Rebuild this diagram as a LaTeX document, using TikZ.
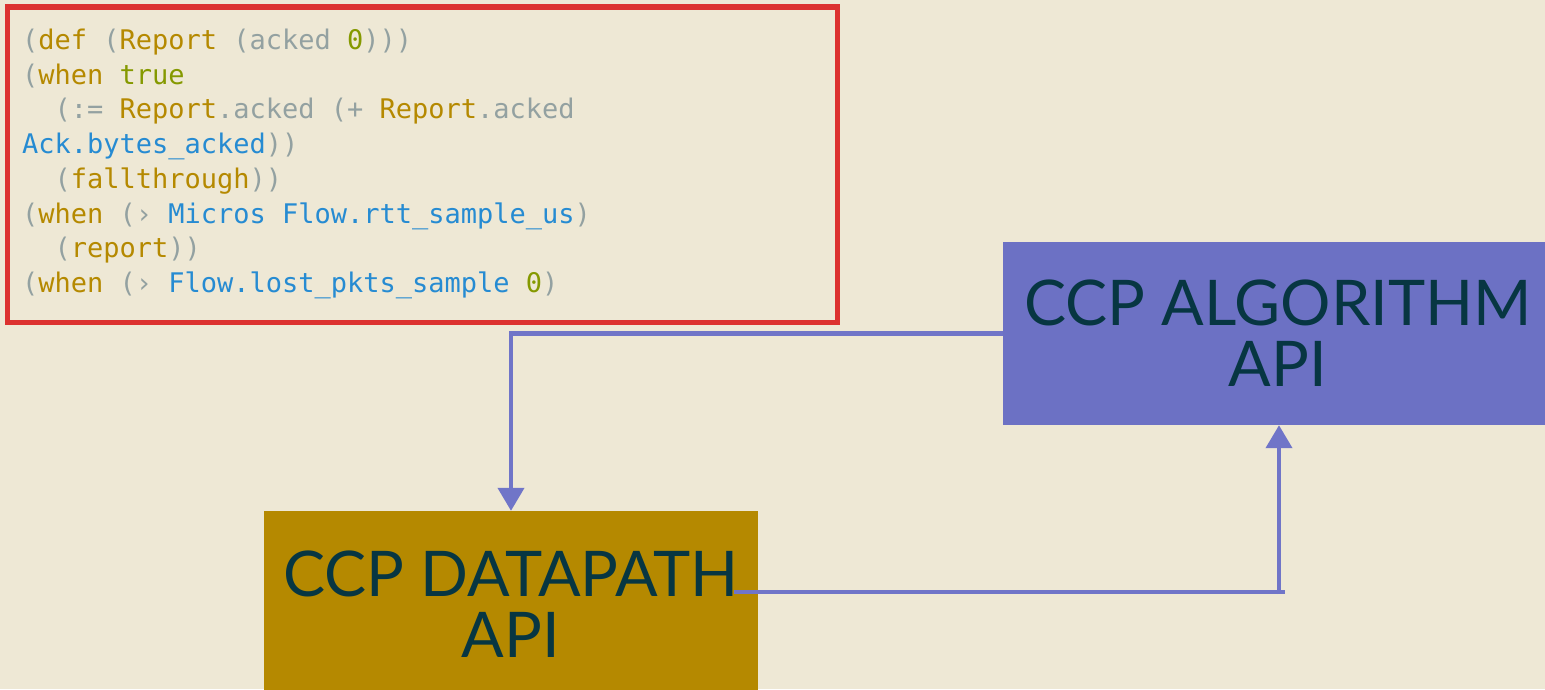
\documentclass[tikz,border=0pt]{standalone}
\usepackage{fontspec}
\usetikzlibrary{arrows.meta}
\newfontfamily\codefont{DejaVu Sans Mono}
\newfontfamily\labelfont{Lato}
\definecolor{paper}{HTML}{EEE8D5}
\definecolor{tokgray}{HTML}{93A1A1}
\definecolor{tokyellow}{HTML}{B58900}
\definecolor{tokgreen}{HTML}{859900}
\definecolor{tokblue}{HTML}{268BD2}
\definecolor{framered}{HTML}{DC322F}
\definecolor{dpfill}{HTML}{B58900}
\definecolor{algfill}{HTML}{6C71C4}
\definecolor{labelink}{HTML}{073642}
\definecolor{flowline}{HTML}{7075C8}
\newcommand\tg[1]{\textcolor{tokgray}{#1}}
\newcommand\ty[1]{\textcolor{tokyellow}{#1}}
\newcommand\tn[1]{\textcolor{tokgreen}{#1}}
\newcommand\tb[1]{\textcolor{tokblue}{#1}}
\tikzset{
  codeline/.style={anchor=base west, inner sep=0pt, outer sep=0pt,
    font=\codefont\fontsize{27}{34.7}\selectfont},
  codeframe/.style={draw=framered, line width=5.5pt, inner sep=0pt},
  apibox/.style={rectangle, inner sep=0pt, text=labelink, align=center,
    font=\labelfont\fontsize{63}{61}\selectfont},
  flow/.style={draw=flowline, line width=4.2pt, line join=miter},
  flowtip/.style={-{Triangle[width=26pt,length=23pt]}}
}
\begin{document}
\begin{tikzpicture}[x=1pt,y=-1pt]
  \useasboundingbox (0,0) rectangle (1545,689);
  \fill[paper] (0,0) rectangle (1545,689);

  % code listing and its frame
  \node[codeframe, minimum width=830pt, minimum height=315.5pt] (frame) at (422.5,164.75) {};
  \node[codeline] (c1) at (22,49.5) {\tg{(}\ty{def} \tg{(}\ty{Report} \tg{(acked} \tn{0}\tg{)))}};
  \node[codeline] (c2) at (22,84.2) {\tg{(}\ty{when} \tn{true}};
  \node[codeline] (c3) at (22,118.9) {\phantom{00}\tg{(:=} \ty{Report}\tg{.acked (+} \ty{Report}\tg{.acked}};
  \node[codeline] (c4) at (22,153.6) {\tb{Ack.bytes\_acked}\tg{))}};
  \node[codeline] (c5) at (22,188.3) {\phantom{00}\tg{(}\ty{fallthrough}\tg{))}};
  \node[codeline] (c6) at (22,223.0) {\tg{(}\ty{when} \tg{(›} \tb{Micros Flow.rtt\_sample\_us}\tg{)}};
  \node[codeline] (c7) at (22,257.7) {\phantom{00}\tg{(}\ty{report}\tg{))}};
  \node[codeline] (c8) at (22,292.4) {\tg{(}\ty{when} \tg{(›} \tb{Flow.lost\_pkts\_sample} \tn{0}\tg{)}};

  % the two API blocks
  \node[apibox, fill=dpfill, minimum width=494pt, minimum height=186pt] (dp) at (511,604) {CCP DATAPATH\\API};
  \node[apibox, fill=algfill, minimum width=550pt, minimum height=183pt] (alg) at (1278,333.5) {CCP ALGORITHM\\API};

  % connectors
  \draw[flow, flowtip] (alg.west) -| (dp.north);
  \coordinate (out) at (734,591.7);
  \coordinate (turn) at (1285,591.7);
  \coordinate (foot) at (1279,594);
  \draw[flow] (out) -- (turn);
  \draw[flow, flowtip] (foot) -- (foot |- alg.south);
\end{tikzpicture}
\end{document}
